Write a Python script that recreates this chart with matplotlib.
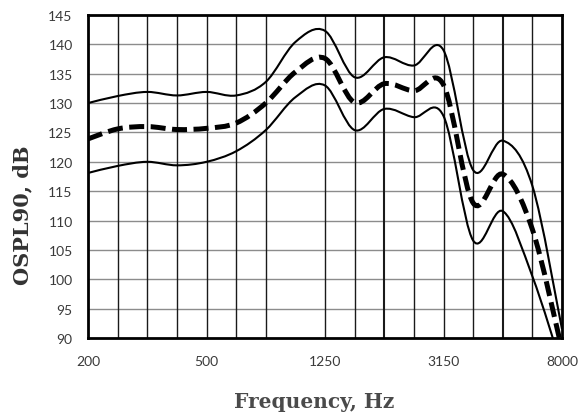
import numpy as np
import matplotlib
matplotlib.use("Agg")
import matplotlib.pyplot as plt
from matplotlib.path import Path
from matplotlib.patches import PathPatch

# 1/3-octave band centre frequencies (Hz), drawn at equal spacing
freqs = [200, 250, 315, 400, 500, 630, 800, 1000, 1250, 1600,
         2000, 2500, 3150, 4000, 5000, 6300, 8000]
tick_labels = ["200", "500", "1250", "3150", "8000"]

# OSPL90 values (dB)
upper = [130.0, 131.2, 131.9, 131.3, 131.9, 131.3, 133.6, 140.4, 142.3,
         134.4, 137.8, 136.4, 139.0, 118.6, 123.6, 115.9, 91.5]
mean = [123.9, 125.6, 126.0, 125.5, 125.7, 126.6, 130.0, 135.3, 137.6,
        130.1, 133.3, 132.1, 133.1, 113.0, 117.9, 108.5, 88.0]
lower = [118.1, 119.3, 120.0, 119.4, 120.0, 121.8, 125.4, 131.0, 133.0,
         125.4, 129.0, 127.6, 127.8, 106.6, 111.6, 100.5, 85.0]


def smooth_path(xs, ys):
    # Excel-like smoothed line: cubic Bezier segments (Catmull-Rom handles)
    pts = np.column_stack([xs, ys]).astype(float)
    n = len(pts)
    verts = [pts[0]]
    codes = [Path.MOVETO]
    for i in range(n - 1):
        p0 = pts[i - 1] if i > 0 else pts[i]
        p1 = pts[i]
        p2 = pts[i + 1]
        p3 = pts[i + 2] if i + 2 < n else pts[i + 1]
        c1 = p1 + (p2 - p0) / 6.0
        c2 = p2 - (p3 - p1) / 6.0
        verts += [c1, c2, p2]
        codes += [Path.CURVE4] * 3
    return Path(verts, codes)


fig = plt.figure(figsize=(5.82, 4.14), dpi=100)
ax = fig.add_axes([88 / 582, 75 / 414, 474 / 582, 323 / 414])

x = np.arange(len(freqs))
ax.set_xlim(0, len(freqs) - 1)
ax.set_ylim(90, 145)

# grid: grey horizontals, black verticals (the 1000 Hz one is absent in the original)
for yv in range(95, 145, 5):
    ax.axhline(yv, color="#8c8c8c", lw=1.0, zorder=1)
for i in x[1:-1]:
    if freqs[i] == 1000:
        continue
    w = 1.5 if freqs[i] in (2000, 5000) else 1.0
    ax.axvline(i, color="#1a1a1a", lw=w, zorder=1)

for vals, ls, lw in [(upper, "-", 1.5), (lower, "-", 1.5), (mean, (0, (3, 1.3)), 3.6)]:
    patch = PathPatch(smooth_path(x, vals), fill=False, edgecolor="black",
                      lw=lw, linestyle=ls, capstyle="butt", zorder=3)
    ax.add_patch(patch)

ax.set_xticks(x[::4])
ax.set_xticklabels(tick_labels)
ax.set_yticks(range(90, 146, 5))
ax.tick_params(axis="both", length=0, labelsize=10, labelcolor="#3a3a3a")
ax.tick_params(axis="y", pad=11)
ax.tick_params(axis="x", pad=12)
for lab in ax.get_xticklabels() + ax.get_yticklabels():
    lab.set_fontfamily("Lato")

for side in ["left", "right", "top", "bottom"]:
    ax.spines[side].set_linewidth(2.0)
    ax.spines[side].set_color("black")
    ax.spines[side].set_zorder(4)

fig.text(22 / 582, 1 - 215 / 414, "OSPL90, dB", rotation=90, ha="center", va="center",
         family="DejaVu Serif", weight="bold", fontsize=15, color="#333333")
fig.text(314 / 582, 6 / 414, "Frequency, Hz", ha="center", va="baseline",
         family="DejaVu Serif", weight="bold", fontsize=14.5, color="#4a4a4a")

fig.savefig("out.png", dpi=100)
